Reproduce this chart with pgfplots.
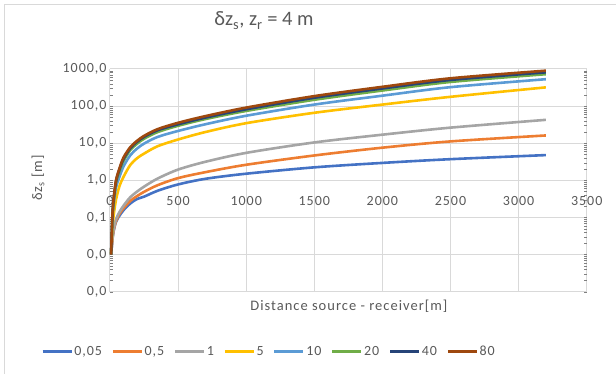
\documentclass[border=0pt]{standalone}
\usepackage{fontspec}
\setmainfont{Carlito}
\newfontfamily\spc[LetterSpace=7]{Carlito}
\usepackage{pgfplots}
\pgfplotsset{compat=1.18}
\definecolor{cA}{HTML}{4472C4}
\definecolor{cB}{HTML}{ED7D31}
\definecolor{cC}{HTML}{A5A5A5}
\definecolor{cD}{HTML}{FFC000}
\definecolor{cE}{HTML}{5B9BD5}
\definecolor{cF}{HTML}{70AD47}
\definecolor{cG}{HTML}{264478}
\definecolor{cH}{HTML}{9E480E}
\definecolor{gridc}{HTML}{D9D9D9}
\definecolor{txt}{HTML}{595959}
\begin{document}
\begin{tikzpicture}[x=1pt,y=1pt]
\useasboundingbox (0,0) rectangle (616,374);
\draw[color=gridc, line width=1pt] (4.5,-5) -- (4.5,369.5) -- (640,369.5);
\node[anchor=base, font=\fontsize{20.5}{22}\selectfont, text=txt] at (264,348) {δz\textsubscript{s}, z\textsubscript{r} = 4 m};
\begin{axis}[
  at={(110pt,82.3pt)}, anchor=south west,
  scale only axis, width=476.7pt, height=222.7pt,
  xmin=0, xmax=3500, ymin=0.001, ymax=1000, ymode=log,
  xtick={0,500,...,3500},
  ytick={0.001,0.01,0.1,1,10,100,1000},
  yticklabels={{0,0},{0,0},{0,1},{1,0},{10,0},{100,0},{1000,0}},
  minor ytick={}, minor tick num=0,
  /pgf/number format/assume math mode=true,
  /pgf/number format/1000 sep={},
  xmajorgrids, ymajorgrids,
  grid style={color=gridc, line width=1pt},
  axis line style={draw=none},
  major tick length=0pt,
  tick label style={font=\spc\fontsize{14}{15}\selectfont, text=txt},
  xticklabel style={anchor=center, yshift=91pt},
  xlabel={Distance source - receiver[m]},
  ylabel={δz\textsubscript{s} [m]},
  label style={font=\spc\fontsize{14.5}{16}\selectfont, text=txt},
  xlabel style={at={(axis description cs:0.501,-0.0674)}, anchor=center},
  ylabel style={at={(axis description cs:-0.151,0.5105)}, anchor=center},
  legend columns=8,
  legend style={at={(0.333,-0.2694)}, anchor=center, draw=none, fill=none,
    font=\spc\fontsize{14}{15}\selectfont, text=txt,
    nodes={inner xsep=1.5pt},
    /tikz/every even column/.append style={column sep=8pt},
    /tikz/every odd column/.append style={column sep=0pt}},
  legend image code/.code={\draw[#1] (0pt,0pt) -- (29pt,0pt);},
  every axis plot/.append style={line width=2.6pt, smooth},
]
\addplot[cA] coordinates {(8,0.01) (17,0.0229) (25,0.0398) (44,0.0759) (70,0.112) (100,0.158) (150,0.24) (200,0.316) (250,0.363) (350,0.525) (500,0.776) (700,1.1) (1000,1.51) (1500,2.24) (2000,2.95) (2500,3.72) (3200,4.79)};
\addlegendentry{0,05}
\addplot[cB] coordinates {(8,0.01) (17,0.024) (25,0.0417) (44,0.0794) (70,0.126) (100,0.178) (150,0.282) (200,0.38) (250,0.49) (350,0.741) (500,1.15) (700,1.66) (1000,2.63) (1500,4.68) (2000,7.59) (2500,11.2) (3200,16.2)};
\addlegendentry{0,5}
\addplot[cC] coordinates {(8,0.01) (17,0.0251) (25,0.0447) (44,0.0891) (70,0.141) (100,0.209) (150,0.355) (200,0.501) (250,0.676) (350,1.12) (500,1.95) (700,3.16) (1000,5.5) (1500,10.5) (2000,17.0) (2500,26.3) (3200,42.7)};
\addlegendentry{1}
\addplot[cD] coordinates {(8,0.01) (17,0.045) (25,0.1) (44,0.3) (70,0.708) (100,1.26) (150,2.63) (200,3.98) (250,5.25) (350,8.32) (500,12.6) (700,20.0) (1000,34.7) (1500,66.1) (2000,110) (2500,178) (3200,320)};
\addlegendentry{5}
\addplot[cE] coordinates {(8,0.01) (17,0.0794) (25,0.2) (44,0.631) (70,1.26) (100,2.4) (150,4.79) (200,7.24) (250,9.77) (350,14.8) (500,21.4) (700,32.4) (1000,55.0) (1500,110) (2000,191) (2500,324) (3200,531)};
\addlegendentry{10}
\addplot[cF] coordinates {(8,0.01) (17,0.0891) (25,0.234) (44,0.851) (70,1.78) (100,3.39) (150,6.61) (200,9.77) (250,13.2) (350,20.0) (500,29.5) (700,44.7) (1000,74.1) (1500,148) (2000,263) (2500,447) (3200,724)};
\addlegendentry{20}
\addplot[cG] coordinates {(8,0.01) (17,0.0955) (25,0.263) (44,0.933) (70,2.0) (100,3.8) (150,7.41) (200,11.0) (250,14.8) (350,22.4) (500,32.4) (700,49.0) (1000,82.2) (1500,168) (2000,299) (2500,507) (3200,813)};
\addlegendentry{40}
\addplot[cH] coordinates {(8,0.01) (17,0.1) (25,0.282) (44,1.0) (70,2.14) (100,4.17) (150,7.94) (200,11.7) (250,15.8) (350,24.0) (500,35.5) (700,53.7) (1000,91.2) (1500,186) (2000,331) (2500,562) (3200,902)};
\addlegendentry{80}
\end{axis}
\end{tikzpicture}
\end{document}
